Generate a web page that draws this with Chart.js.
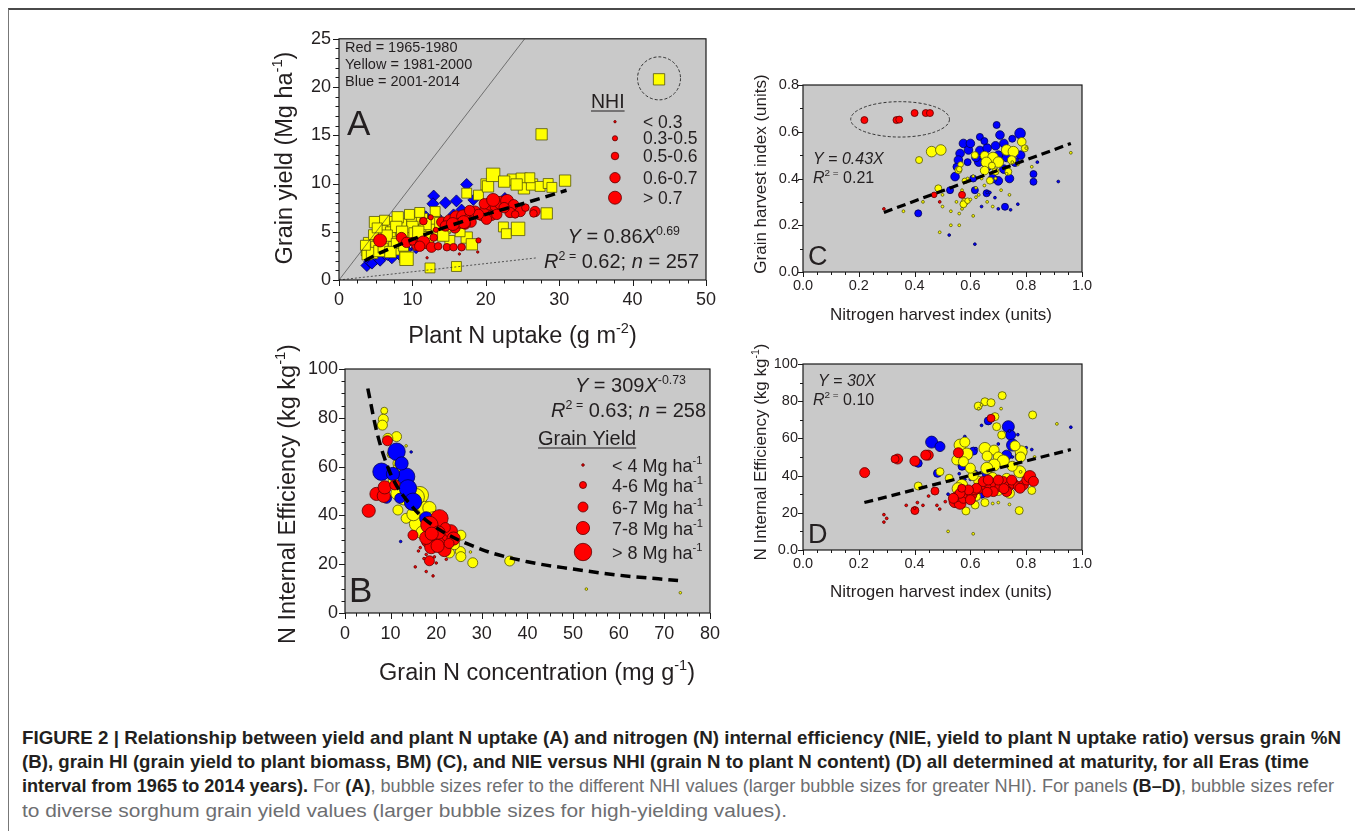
<!DOCTYPE html>
<html>
<head>
<meta charset="utf-8">
<script src="https://cdn.jsdelivr.net/npm/chart.js@4.4.1/dist/chart.umd.min.js"></script>
<style>
  body { margin: 0; background: #fff; width: 1355px; height: 831px; overflow: hidden; position: relative; }
  #frame { position: absolute; left: 8px; top: 8px; width: 1360px; height: 840px; border-top: 2px solid #4a4a4a; border-left: 1px solid #777; }
  canvas { position: absolute; }
  .cap { position: absolute; left: 22px; white-space: nowrap; font-family: "Liberation Sans Narrow", "Arial Narrow", "Liberation Sans", Arial, sans-serif; font-size: 18.5px; line-height: 24px; color: #6d6e71; transform-origin: 0 50%; }
  .cap b { color: #231f20; }
</style>
</head>
<body>
<div id="frame"></div>
<canvas id="cA" width="480" height="335" style="left:250px;top:20px"></canvas>
<canvas id="cB" width="480" height="360" style="left:250px;top:335px"></canvas>
<canvas id="cC" width="370" height="273" style="left:735px;top:62px"></canvas>
<canvas id="cD" width="370" height="285" style="left:735px;top:330px"></canvas>

<div class="cap" style="top:726px" data-w="1319"><b>FIGURE 2 | Relationship between yield and plant N uptake (A) and nitrogen (N) internal efficiency (NIE, yield to plant N uptake ratio) versus grain %N</b></div>
<div class="cap" style="top:750px" data-w="1287"><b>(B), grain HI (grain yield to plant biomass, BM) (C), and NIE versus NHI (grain N to plant N content) (D) all determined at maturity, for all Eras (time</b></div>
<div class="cap" style="top:774px" data-w="1312"><b>interval from 1965 to 2014 years).</b> For <b>(A)</b>, bubble sizes refer to the different NHI values (larger bubble sizes for greater NHI). For panels <b>(B–D)</b>, bubble sizes refer</div>
<div class="cap" style="top:799px" data-w="765">to diverse sorghum grain yield values (larger bubble sizes for high-yielding values).</div>

<script>
// ---- data: [x, y, size class] ----
// panel A: grain yield vs plant N uptake (size class = NHI bin)
const aRed = [
  [5.6,4.1,4],[8.5,4.4,3],[9.2,3.9,3],[10.6,3.6,3],[11.5,3.9,4],[12.6,3.4,3],[11.5,6.1,2],[14.0,6.0,3],
  [15.1,6.1,4],[16.0,6.5,4],[16.9,6.6,4],[17.6,6.3,3],[18.5,7.0,4],[19.4,6.7,3],[20.1,7.4,4],[20.6,7.9,4],
  [21.3,7.6,3],[22.0,8.0,4],[22.9,8.2,4],[23.8,7.8,3],[23.3,7.0,3],[24.7,7.1,3],[25.4,7.5,2],[26.7,7.1,3],
  [26.5,6.9,2],[20.8,6.7,3],[20.1,6.3,3],[19.0,6.8,3],[15.8,5.4,3],[16.5,5.9,3],[17.8,7.2,3],[14.7,3.4,2],
  [15.6,3.4,2],[16.7,3.4,2],[19.0,4.1,1],[12.9,4.4,2],[12.0,2.3,0],[16.4,2.7,0],[18.9,2.9,0],[13.2,5.2,1],
  [14.5,5.6,3],[21.5,6.8,3],[22.5,7.5,3],[24.0,6.8,2],[10.0,4.0,2],[12.5,6.5,1],[13.5,3.5,2],[18.0,6.0,3],
  [17.2,5.8,3],[11.0,3.5,3],[19.8,7.9,3],[21.0,8.3,4],[17.0,6.0,4],[15.5,5.8,4]
];
const aYellow = [
  [4.0,3.9,2],[3.8,3.1,3],[5.4,4.4,3],[6.5,5.8,4],[7.4,6.0,3],[8.5,5.8,3],[9.9,6.1,2],[11.3,6.3,3],
  [7.4,4.4,3],[9.0,4.1,2],[10.4,4.4,3],[11.5,5.3,2],[12.6,5.6,3],[13.5,4.7,2],[14.4,5.4,3],[6.7,3.4,3],
  [8.1,3.1,2],[9.0,2.4,3],[10.8,3.6,2],[5.8,5.1,3],[4.7,4.7,2],[4.9,6.0,3],[9.2,4.9,3],[9.2,2.2,4],
  [4.3,3.0,3],[5.0,3.5,2],[6.0,4.0,3],[7.0,5.0,2],[8.0,6.5,3],[10.0,5.5,3],[12.0,4.5,2],[13.1,6.3,2],
  [13.1,7.1,2],[15.1,4.1,2],[14.2,4.6,3],[17.4,4.4,3],[18.1,3.7,3],[16.0,1.4,2],[12.4,1.25,2],[22.4,5.5,2],
  [22.8,4.8,2],[24.4,5.3,4],[28.3,6.9,3],[20.1,9.9,3],[19.0,8.8,2],[17.4,9.0,2],[20.3,9.7,3],[21.0,10.9,4],
  [23.7,10.4,3],[24.9,10.5,3],[25.2,9.5,3],[26.3,9.9,3],[27.4,9.7,2],[28.5,10.0,2],[30.8,10.3,3],[27.6,15.1,3],
  [43.6,20.8,3],[23.5,7.5,2],[15.5,5.5,2],[16.5,5.0,2],[11.0,7.0,2],[7.8,5.5,3],[6.2,6.2,2],[3.8,2.6,2],[4.5,2.8,3],
  [5.5,3.0,3],[6.5,4.6,3],[7.8,3.8,2],[8.6,5.0,3],[10.2,4.9,2],[11.8,5.8,3],[3.6,3.6,2],[5.2,5.4,2],
  [6.0,3.3,2],[7.0,2.9,3],[8.8,3.5,2],[9.6,6.8,2],[10.8,5.0,3],[12.2,3.8,2],[13.8,5.9,3],[22.5,10.2,3],
  [26.0,10.6,2],[24.2,9.9,3],[29.0,9.6,2]
];
const aBlue = [
  [17.4,9.9,3],[12.9,8.7,3],[12.8,7.9,3],[14.5,8.0,3],[16.0,8.2,3],[18.3,8.3,2],[22.6,8.5,2],[15.6,6.8,2],
  [16.7,7.3,2],[13.3,6.6,2],[3.8,1.5,3],[4.2,1.9,3],[5.1,2.2,3],[6.0,2.4,2],[7.2,2.3,3],[8.3,2.55,2],
  [9.2,3.1,2],[4.5,1.7,2],[5.6,2.0,2],[6.6,2.6,2],[15.8,6.5,2],[17.0,6.8,2],[11.8,6.6,2],[10.5,3.3,2]
];
const aFitX = [3.5, 5, 10, 15, 20, 25, 31];
const aFitY = [2.0, 2.6, 4.2, 5.6, 6.8, 7.9, 9.3];
const aOneToOne = [[0, 0], [25.3, 25]];
const aLowLine = [[0, 0], [27, 2.3]];
const aNhiLabels = ['< 0.3', '0.3-0.5', '0.5-0.6', '0.6-0.7', '> 0.7'];

// panel B: NIE vs grain N concentration (size class = yield bin)
const bRed = [
  [5.2,41.9,3],[6.9,48.8,3],[8.5,48.0,3],[8.7,51.5,3],[10.9,52.5,2],[9.3,70.6,2],[20.7,38.8,4],[18.5,36.1,4],
  [14.9,31.9,2],[21.8,25.8,3],[19.6,28.0,3],[21.1,30.5,3],[22.5,32.0,3],[23.2,33.5,3],[18.2,29.5,3],[18.9,27.0,3],
  [17.8,30.8,3],[20.3,27.5,3],[22.0,35.0,2],[23.8,30.5,3],[18.5,21.4,2],[16.1,25.4,0],[17.8,24.0,0],[19.6,23.0,0],
  [17.3,22.3,0],[15.4,18.9,0],[17.8,17.0,0],[19.3,15.2,0],[22.2,22.0,0],[20.0,20.5,0],[16.5,26.8,0],
  [20.5,33.0,3],[19.0,32.5,3],[22.8,28.5,2]
];
const bYellow = [
  [8.6,82.9,1],[8.4,79.4,2],[8.2,77.0,2],[11.3,72.3,2],[9.4,71.6,2],[13.4,68.5,0],[11.6,61.3,2],[12.0,59.0,3],
  [10.9,54.5,3],[12.0,51.8,3],[11.5,49.0,3],[16.4,48.3,4],[17.4,42.2,4],[18.5,43.0,3],[16.0,36.7,4],[13.4,38.8,2],
  [11.6,42.2,2],[25.4,31.9,2],[25.3,25.2,2],[25.4,23.1,2],[28.0,20.6,2],[22.9,24.6,2],[24.0,28.0,2],[36.1,21.3,2],
  [52.9,9.8,0],[73.5,8.3,0],[27.5,25.0,0],[14.5,45.0,3],[13.5,52.0,3],[20.0,30.0,3],[15.0,40.5,3],[19.5,38.0,4],
  [10.0,65.0,1],[17.0,33.0,3],[15.5,47.5,4],[12.8,47.0,3]
];
const bBlue = [
  [11.3,66.1,4],[8.0,57.9,4],[13.4,55.9,4],[13.8,51.1,4],[14.9,45.6,4],[12.4,61.3,3],[17.8,38.8,3],[14.5,66.0,0],
  [12.2,29.3,0],[9.1,47.0,2],[10.5,57.0,3],[12.0,47.0,2]
];
const bFitX = [5, 7, 10, 15, 20, 30, 40, 50, 60, 73];
const bFitY = [92, 74, 57, 43, 35, 26, 21, 18, 15.5, 13.3];
const bYieldLabels = ['< 4 Mg ha', '4-6 Mg ha', '6-7 Mg ha', '7-8 Mg ha', '> 8 Mg ha'];

// panel C: grain HI vs NHI
const cRed = [
  [0.22,0.65,2],[0.335,0.65,2],[0.345,0.652,2],[0.40,0.68,2],[0.44,0.68,2],[0.455,0.68,2],[0.57,0.33,2],
  [0.47,0.33,1],[0.29,0.27,0],[0.49,0.30,0]
];
const cYellow = [
  [0.461,0.515,4],[0.494,0.522,4],[0.416,0.479,2],[0.485,0.358,2],[0.58,0.30,2],[0.575,0.29,2],[0.59,0.305,1],
  [0.616,0.50,2],[0.651,0.498,3],[0.681,0.49,4],[0.657,0.469,4],[0.651,0.434,3],[0.67,0.391,2],[0.70,0.47,4],
  [0.73,0.522,4],[0.754,0.515,4],[0.784,0.557,3],[0.795,0.529,2],[0.736,0.429,2],[0.748,0.479,3],[0.69,0.43,2],
  [0.677,0.455,2],[0.557,0.436,2],[0.565,0.46,1],[0.56,0.44,1],[0.58,0.39,1],
  [0.36,0.26,0],[0.49,0.17,0],[0.50,0.28,0],[0.53,0.20,0],[0.53,0.26,0],[0.56,0.25,0],[0.56,0.20,0],[0.57,0.35,0],
  [0.60,0.31,0],[0.61,0.24,0],[0.61,0.41,0],[0.62,0.36,0],[0.63,0.33,0],[0.65,0.37,0],[0.68,0.28,0],[0.74,0.33,0],
  [0.77,0.46,0],[0.80,0.53,0],[0.96,0.51,0],[0.73,0.42,0],[0.75,0.47,0],[0.69,0.40,0],[0.55,0.30,0],[0.50,0.33,0],
  [0.57,0.27,0],[0.59,0.40,0],[0.43,0.30,0],[0.62,0.32,0],[0.66,0.30,0],[0.71,0.35,0],[0.82,0.45,0],[0.64,0.40,0]
];
const cBlue = [
  [0.694,0.629,2],[0.706,0.586,3],[0.778,0.593,4],[0.634,0.578,2],[0.575,0.55,3],[0.593,0.522,3],[0.563,0.507,3],
  [0.557,0.479,3],[0.545,0.408,3],[0.527,0.35,2],[0.616,0.35,2],[0.658,0.337,2],[0.724,0.279,2],[0.413,0.251,2],
  [0.826,0.419,2],[0.826,0.386,2],[0.634,0.52,3],[0.66,0.53,3],[0.69,0.54,3],[0.72,0.55,3],[0.70,0.50,3],
  [0.73,0.49,3],[0.63,0.47,3],[0.66,0.45,3],[0.70,0.39,3],[0.74,0.40,3],[0.72,0.44,3],[0.76,0.47,3],[0.78,0.50,3],
  [0.68,0.40,3],[0.61,0.40,2],[0.62,0.49,3],[0.59,0.47,2],[0.60,0.55,3],[0.65,0.56,2],[0.75,0.57,2],[0.55,0.45,2],
  [0.915,0.387,0],[0.616,0.119,0],[0.524,0.158,0],[0.744,0.266,0],[0.688,0.318,0],[0.77,0.29,0],[0.70,0.27,0],
  [0.67,0.34,0],[0.84,0.47,0],[0.64,0.28,0],[0.66,0.34,0]
];
const cFitX = [0.29, 0.96];
const cFitY = [0.255, 0.55];

// panel D: NIE vs NHI
const dRed = [
  [0.221,41.6,3],[0.339,48.9,3],[0.33,48.9,2],[0.401,47.8,3],[0.449,51.0,3],[0.44,51.0,3],[0.557,52.3,3],
  [0.674,70.8,2],[0.473,31.7,2],[0.401,21.2,2],
  [0.545,26.0,4],[0.563,25.1,4],[0.551,28.7,3],[0.575,27.8,3],[0.587,30.5,3],[0.605,29.6,3],[0.617,32.3,3],
  [0.634,33.2,3],[0.652,35.0,3],[0.670,34.1,3],[0.688,35.8,3],[0.706,34.1,3],[0.718,36.8,3],[0.736,34.1,3],
  [0.754,35.8,3],[0.772,34.1,3],[0.790,35.0,3],[0.802,37.6,3],[0.813,39.5,4],[0.826,36.9,3],[0.730,31.4,3],
  [0.682,31.4,3],[0.622,33.2,3],[0.646,36.8,3],[0.664,37.6,3],[0.700,37.6,3],[0.748,37.6,3],[0.778,33.2,3],
  [0.593,32.3,3],[0.563,30.5,3],[0.539,27.8,3],[0.569,33.2,2],[0.60,27.0,3],[0.66,31.0,3],[0.72,33.0,3],
  [0.29,19,0],[0.29,15,0],[0.30,17,0],[0.41,25.5,0],[0.43,24,0],[0.48,24,0],[0.49,22,0],[0.51,26,0],
  [0.40,22.5,0],[0.45,29,0],[0.37,24,0]
];
const dYellow = [
  [0.714,83.0,2],[0.652,79.7,2],[0.674,79.2,2],[0.628,77.4,2],[0.823,72.6,2],[0.688,71.7,2],[0.694,66.3,2],
  [0.712,61.8,2],[0.563,56.4,4],[0.587,51.6,4],[0.551,48.4,3],[0.575,47.5,3],[0.652,54.6,4],[0.685,53.7,3],
  [0.70,50.0,3],[0.718,47.9,4],[0.685,45.7,4],[0.659,43.9,4],[0.777,42.1,4],[0.782,52.8,4],[0.76,56.0,3],
  [0.491,42.1,2],[0.524,38.6,2],[0.413,34.4,2],[0.569,34.8,4],[0.556,33.0,4],[0.622,28.7,2],[0.617,24.2,2],
  [0.652,25.5,2],[0.584,21.0,2],[0.775,21.2,2],[0.82,32.0,2],[0.63,37.0,3],[0.61,40.0,3],[0.68,39.0,3],
  [0.73,38.5,3],[0.60,44.0,3],[0.74,30.5,3],[0.70,32.0,3],[0.66,50.5,3],[0.75,45.0,3],[0.78,50.0,3],[0.58,58.0,3],
  [0.52,10,0],[0.61,8.7,0],[0.91,67.8,0],[0.71,76,0],[0.64,78,0],[0.68,25,0],[0.70,25.5,0],[0.74,24.5,0],
  [0.78,42,0],[0.63,76,0],[0.83,50,0]
];
const dBlue = [
  [0.461,58.0,4],[0.491,55.6,3],[0.413,46.6,2],[0.482,41.2,2],[0.736,66.3,4],[0.744,61.8,3],[0.751,56.4,4],
  [0.784,52.8,3],[0.778,50.1,3],[0.73,51.0,3],[0.664,69.4,2],[0.611,53.2,2],[0.57,45.0,2],[0.66,41.0,3],
  [0.64,30.0,2],[0.72,47.0,2],
  [0.96,66,0],[0.64,67,0],[0.62,54.5,0],[0.58,61,0],[0.56,46,0],[0.74,64,0],[0.80,55,0],[0.75,50,0],[0.60,50,0],
  [0.62,42,0],[0.59,44,0],[0.56,41,0],[0.60,38,0],[0.65,36,0],[0.66,45,0],[0.70,57,0],[0.68,47,0],[0.52,30,0],
  [0.58,38,0],[0.82,54,0],[0.77,62,0]
];
const dFitX = [0.22, 0.96];
const dFitY = [25.5, 54];

// ---- drawing helpers ----
const FONT = '"Liberation Sans", Arial, sans-serif';
const INK = '#231f20';
const PLOT_BG = '#c9c9c9';
const colors = {
  red: ['#ff0000', '#5e0000'],
  yellow: ['#ffff00', '#55550a'],
  blue: ['#0000ff', '#000055']
};

function marks(list, color, radii, style, order) {
  return {
    type: 'scatter',
    data: list.map(p => ({ x: p[0], y: p[1], s: p[2] })),
    pointStyle: style,
    backgroundColor: colors[color][0],
    borderColor: colors[color][1],
    borderWidth: 0.8,
    pointRadius: c => (c.raw ? radii[c.raw.s] : 3),
    order: order
  };
}

function line(xs, ys, width, dash, extra) {
  return Object.assign({
    type: 'line',
    data: xs.map((x, i) => ({ x: x, y: ys[i] })),
    borderColor: '#000',
    borderWidth: width,
    borderDash: dash,
    pointRadius: 0,
    fill: false,
    order: 0
  }, extra || {});
}

function rich(ctx, parts, x, y, align, size) {
  const segs = parts.map(p => {
    const t = typeof p === 'string' ? p : p[0];
    const st = typeof p === 'string' ? '' : p[1];
    const sup = st.includes('s'), it = st.includes('i');
    const font = (it ? 'italic ' : '') + (sup ? size * 0.62 : size) + 'px ' + FONT;
    ctx.font = font;
    return { t: t, font: font, w: ctx.measureText(t).width, dy: sup ? -size * 0.42 : 0 };
  });
  const total = segs.reduce((s, g) => s + g.w, 0);
  let cx = align === 'center' ? x - total / 2 : align === 'right' ? x - total : x;
  ctx.textAlign = 'left';
  ctx.textBaseline = 'alphabetic';
  ctx.fillStyle = INK;
  segs.forEach(g => { ctx.font = g.font; ctx.fillText(g.t, cx, y + g.dy); cx += g.w; });
  return total;
}

function dot(ctx, x, y, r) {
  ctx.beginPath();
  ctx.arc(x, y, r, 0, Math.PI * 2);
  ctx.fillStyle = colors.red[0];
  ctx.fill();
  ctx.lineWidth = 0.8;
  ctx.strokeStyle = colors.red[1];
  ctx.stroke();
}

function onStep(v, step) {
  const k = v / step;
  return Math.abs(k - Math.round(k)) < 1e-6;
}

function decor(cfg) {
  return {
    id: 'decor',
    beforeDraw(chart) {
      const { ctx, chartArea: a } = chart;
      ctx.save();
      ctx.fillStyle = PLOT_BG;
      ctx.fillRect(a.left, a.top, a.right - a.left, a.bottom - a.top);
      ctx.restore();
    },
    afterDraw(chart) {
      const { ctx, chartArea: a, scales } = chart;
      const sx = scales.x, sy = scales.y;
      const ox = cfg.org[0], oy = cfg.org[1];
      ctx.save();
      ctx.strokeStyle = '#1a1a1a';
      ctx.lineWidth = 1.2;
      ctx.strokeRect(a.left, a.top, a.right - a.left, a.bottom - a.top);
      ctx.lineWidth = 1;
      ctx.beginPath();
      for (let i = 0; ; i++) {
        const v = sx.min + i * cfg.minorX;
        if (v > sx.max + 1e-9) break;
        const px = Math.round(sx.getPixelForValue(v)) + 0.5;
        ctx.moveTo(px, a.bottom);
        ctx.lineTo(px, a.bottom + (onStep(v, cfg.majorX) ? cfg.tick[0] : cfg.tick[1]));
      }
      for (let i = 0; ; i++) {
        const v = sy.min + i * cfg.minorY;
        if (v > sy.max + 1e-9) break;
        const py = Math.round(sy.getPixelForValue(v)) + 0.5;
        ctx.moveTo(a.left, py);
        ctx.lineTo(a.left - (onStep(v, cfg.majorY) ? cfg.tick[0] : cfg.tick[1]), py);
      }
      ctx.stroke();
      rich(ctx, cfg.xTitle, cfg.xTitleAt[0] - ox, cfg.xTitleAt[1] - oy, 'center', cfg.titleSize);
      ctx.save();
      ctx.translate(cfg.yTitleAt[0] - ox, cfg.yTitleAt[1] - oy);
      ctx.rotate(-Math.PI / 2);
      rich(ctx, cfg.yTitle, 0, 0, 'center', cfg.titleSize);
      ctx.restore();
      cfg.extra(ctx, chart, (x, y) => [x - ox, y - oy]);
      ctx.restore();
    }
  };
}

function axes(xr, yr, tickSize, pads, dims, fmt) {
  const tick = (pad) => ({ font: { family: FONT, size: tickSize }, color: INK, padding: pad,
    maxRotation: 0, autoSkip: false, callback: fmt });
  const grid = { display: false, drawTicks: false };
  const x = { type: 'linear', min: xr[0], max: xr[1], grid: grid, border: { display: false },
    ticks: Object.assign(tick(pads[0]), { stepSize: xr[2] }), afterFit: s => { s.height = dims[0]; } };
  const y = { type: 'linear', min: yr[0], max: yr[1], grid: grid, border: { display: false },
    ticks: Object.assign(tick(pads[1]), { stepSize: yr[2] }), afterFit: s => { s.width = dims[1]; } };
  return { x: x, y: y };
}

function panel(id, datasets, scales, padding, deco) {
  return new Chart(document.getElementById(id), {
    type: 'scatter',
    data: { datasets: datasets },
    options: {
      responsive: false,
      animation: false,
      events: [],
      devicePixelRatio: 1,
      layout: { padding: padding },
      plugins: { legend: { display: false }, tooltip: { enabled: false } },
      scales: scales
    },
    plugins: [decor(deco)]
  });
}

const intFmt = v => String(Math.round(v));
const decFmt = v => v.toFixed(1);

// ---- panel A ----
const rCircleA = [1.2, 2.6, 3.8, 5.2, 6.5];
const rSquareA = [5, 6, 7, 8, 9.5];
const rDiamondA = [4, 4.5, 5.5, 6, 6.5];
panel('cA', [
  line(aFitX, aFitY, 3.5, [10, 6], { cubicInterpolationMode: 'monotone' }),
  line(aOneToOne.map(p => p[0]), aOneToOne.map(p => p[1]), 0.6, [], { borderColor: '#333' }),
  line(aLowLine.map(p => p[0]), aLowLine.map(p => p[1]), 0.8, [2, 2], { borderColor: '#333' }),
  marks(aRed, 'red', rCircleA, 'circle', 1),
  marks(aYellow, 'yellow', rSquareA, 'rect', 2),
  marks(aBlue, 'blue', rDiamondA, 'rectRot', 3)
], axes([0, 50, 10], [0, 25, 5], 18, [9, 8], [75, 89], intFmt), { left: 0, top: 15, right: 24, bottom: 0 }, {
  org: [250, 20], minorX: 2.5, majorX: 10, minorY: 1, majorY: 5, tick: [6, 3.5], titleSize: 23.5,
  xTitle: ['Plant N uptake (g m', ['-2', 's'], ')'], xTitleAt: [522.5, 343],
  yTitle: ['Grain yield (Mg ha', ['-1', 's'], ')'], yTitleAt: [292, 158],
  extra(ctx, chart, P) {
    const sx = chart.scales.x, sy = chart.scales.y;
    ['Red = 1965-1980', 'Yellow = 1981-2000', 'Blue = 2001-2014'].forEach((t, i) => {
      rich(ctx, [t], ...P(345, 52 + i * 17), 'left', 14.5);
    });
    rich(ctx, ['A'], ...P(347, 135), 'left', 35);
    const w = rich(ctx, ['NHI'], ...P(591, 108), 'left', 19.5);
    ctx.strokeStyle = INK; ctx.lineWidth = 1.2;
    ctx.beginPath(); ctx.moveTo(...P(591, 111)); ctx.lineTo(...P(591 + w, 111)); ctx.stroke();
    const ly = [121.7, 138.3, 156, 177.7, 197.7];
    aNhiLabels.forEach((t, i) => {
      dot(ctx, ...P(615, ly[i]), rCircleA[i]);
      rich(ctx, [t], ...P(643, ly[i] + 6), 'left', 17.5);
    });
    rich(ctx, [['Y', 'i'], ' = 0.86', ['X', 'i'], ['0.69', 's']], ...P(680, 243), 'right', 20);
    rich(ctx, [['R', 'i'], ['2 =', 's'], ' 0.62; ', ['n', 'i'], ' = 257'], ...P(699, 268), 'right', 20);
    // dashed circle round the outlier
    ctx.setLineDash([3, 2]); ctx.lineWidth = 0.9; ctx.strokeStyle = '#222';
    ctx.beginPath();
    ctx.arc(sx.getPixelForValue(43.6), sy.getPixelForValue(20.9), 21.5, 0, Math.PI * 2);
    ctx.stroke();
    ctx.setLineDash([]);
  }
});

// ---- panel B ----
const rCircleB = [1.3, 3.5, 5, 6.6, 8.7];
panel('cB', [
  line(bFitX, bFitY, 3.5, [10, 6], { cubicInterpolationMode: 'monotone' }),
  marks(bRed, 'red', rCircleB, 'circle', 1),
  marks(bBlue, 'blue', rCircleB, 'circle', 2),
  marks(bYellow, 'yellow', rCircleB, 'circle', 3)
], axes([0, 80, 10], [0, 100, 20], 18, [10, 7], [82, 95], intFmt), { left: 0, top: 34, right: 18, bottom: 0 }, {
  org: [250, 335], minorX: 2.5, majorX: 10, minorY: 5, majorY: 20, tick: [6, 3.5], titleSize: 23.5,
  xTitle: ['Grain N concentration (mg g', ['-1', 's'], ')'], xTitleAt: [537, 680],
  yTitle: ['N Internal Efficiency (kg kg', ['-1', 's'], ')'], yTitleAt: [295, 494],
  extra(ctx, chart, P) {
    rich(ctx, ['B'], ...P(349, 602), 'left', 35);
    rich(ctx, [['Y', 'i'], ' = 309', ['X', 'i'], ['-0.73', 's']], ...P(686, 392), 'right', 20);
    rich(ctx, [['R', 'i'], ['2 =', 's'], ' 0.63; ', ['n', 'i'], ' = 258'], ...P(706, 417), 'right', 20);
    const w = rich(ctx, ['Grain Yield'], ...P(538, 445), 'left', 20);
    ctx.strokeStyle = INK; ctx.lineWidth = 1.2;
    ctx.beginPath(); ctx.moveTo(...P(538, 448)); ctx.lineTo(...P(538 + w, 448)); ctx.stroke();
    const ly = [465, 485, 507, 528, 552];
    bYieldLabels.forEach((t, i) => {
      dot(ctx, ...P(583, ly[i]), rCircleB[i]);
      rich(ctx, [t, ['-1', 's']], ...P(612, ly[i] + 6.5), 'left', 18);
    });
  }
});

// ---- panel C ----
const rCircleC = [1.4, 2.8, 3.5, 4.3, 5.3];
panel('cC', [
  line(cFitX, cFitY, 3.2, [9, 5]),
  marks(cRed, 'red', rCircleC, 'circle', 1),
  marks(cYellow, 'yellow', rCircleC, 'circle', 2),
  marks(cBlue, 'blue', rCircleC, 'circle', 3)
], axes([0, 1, 0.2], [0, 0.8, 0.2], 14.5, [5, 4], [63, 68], decFmt), { left: 0, top: 23, right: 23, bottom: 0 }, {
  org: [735, 62], minorX: 0.05, majorX: 0.2, minorY: 0.1, majorY: 0.2, tick: [5, 3], titleSize: 17,
  xTitle: ['Nitrogen harvest index (units)'], xTitleAt: [941, 320],
  yTitle: ['Grain harvest index (units)'], yTitleAt: [766, 174],
  extra(ctx, chart, P) {
    const sx = chart.scales.x, sy = chart.scales.y;
    rich(ctx, ['C'], ...P(808, 265), 'left', 27);
    rich(ctx, [['Y = 0.43X', 'i']], ...P(813, 164), 'left', 16);
    rich(ctx, [['R', 'i'], ['2 =', 's'], ' 0.21'], ...P(813, 183), 'left', 16);
    // dashed ellipse round the early-era points
    const cx = sx.getPixelForValue(0.348), cy = sy.getPixelForValue(0.653);
    const rx = sx.getPixelForValue(0.348 + 0.177) - cx, ry = cy - sy.getPixelForValue(0.653 + 0.0757);
    ctx.setLineDash([3, 2]); ctx.lineWidth = 0.9; ctx.strokeStyle = '#222';
    ctx.beginPath(); ctx.ellipse(cx, cy, rx, ry, 0, 0, Math.PI * 2); ctx.stroke();
    ctx.setLineDash([]);
  }
});

// ---- panel D ----
const rCircleD = [1.4, 3, 4, 5, 6];
panel('cD', [
  line(dFitX, dFitY, 3.2, [9, 5]),
  marks(dRed, 'red', rCircleD, 'circle', 1),
  marks(dYellow, 'yellow', rCircleD, 'circle', 2),
  marks(dBlue, 'blue', rCircleD, 'circle', 3)
], axes([0, 1, 0.2], [0, 100, 20], 14.5, [5, 5], [65, 68], v => (v > 1.0001 ? intFmt(v) : decFmt(v))),
{ left: 0, top: 34, right: 23, bottom: 0 }, {
  org: [735, 330], minorX: 0.05, majorX: 0.2, minorY: 10, majorY: 20, tick: [5, 3], titleSize: 17,
  xTitle: ['Nitrogen harvest index (units)'], xTitleAt: [941, 597],
  yTitle: ['N Internal Efficiency (kg kg', ['-1', 's'], ')'], yTitleAt: [766, 452],
  extra(ctx, chart, P) {
    rich(ctx, ['D'], ...P(808, 543), 'left', 27);
    rich(ctx, [['Y = 30X', 'i']], ...P(818, 386), 'left', 16);
    rich(ctx, [['R', 'i'], ['2 =', 's'], ' 0.10'], ...P(813, 405), 'left', 16);
  }
});

// fit caption lines to their measured widths
document.querySelectorAll('.cap').forEach(el => {
  const w = el.getBoundingClientRect().width;
  el.style.transform = 'scaleX(' + (Number(el.dataset.w) / w) + ')';
});
</script>
</body>
</html>
